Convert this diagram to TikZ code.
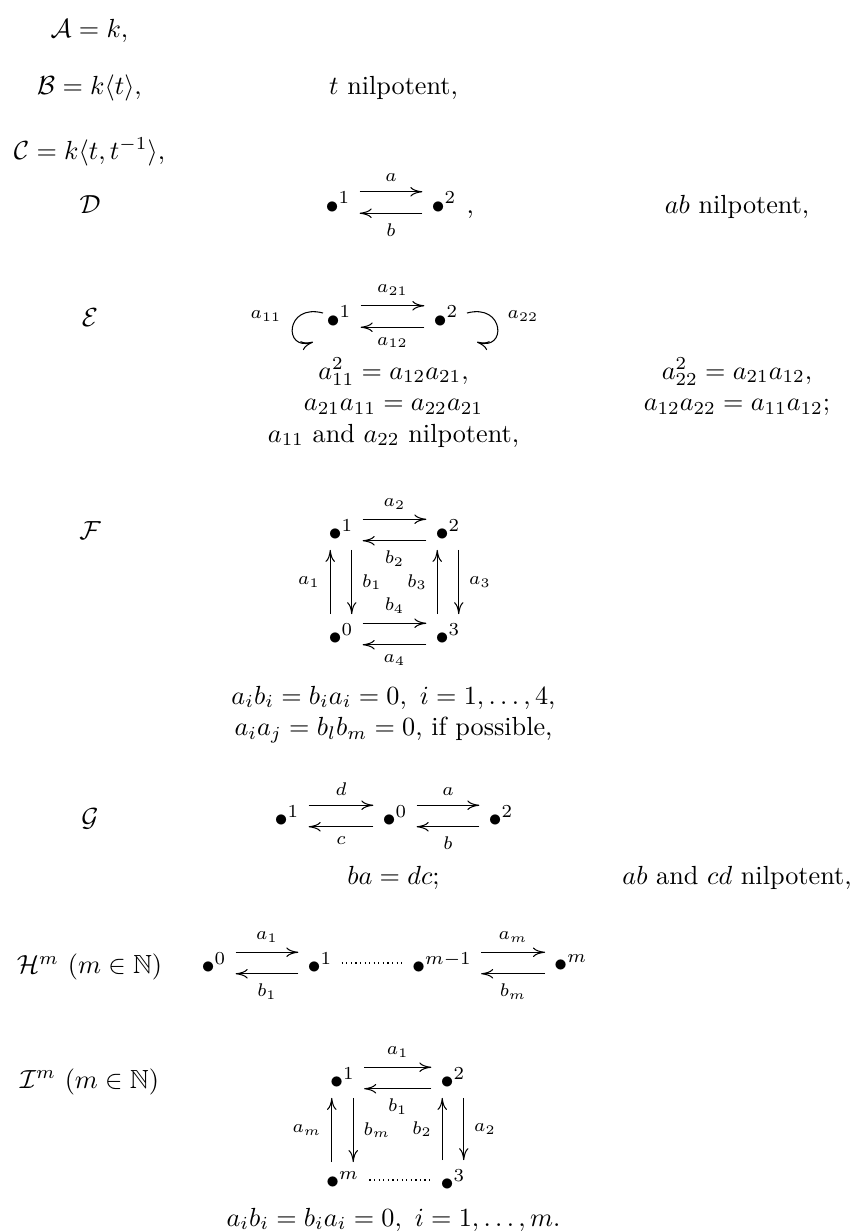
\documentclass[tikz,border=0pt]{standalone}
\usepackage{amsmath,amssymb}
\usetikzlibrary{arrows.meta,calc}
\begin{document}
\begin{tikzpicture}[x=0.3817pt,y=-0.3817pt,
  vx/.style={inner sep=0pt,outer sep=0pt},
  lab/.style={font=\scriptsize,inner sep=0pt},
  tip/.style={-{Computer Modern Rightarrow[length=4.6pt,width=3.6pt]}},
  ar/.style={tip,line width=0.4pt,shorten <=3.5pt,shorten >=3.5pt},
  loopar/.style={tip,line width=0.4pt},
  dotline/.style={line width=0.45pt,dash pattern=on 0.45pt off 1.3pt,shorten <=3.5pt,shorten >=2.7pt},
  txt/.style={inner sep=0pt,anchor=base},
  labu/.style={lab,midway,anchor=south,yshift=3.7pt},
  labd/.style={lab,midway,anchor=north,yshift=-3.7pt},
  labl/.style={lab,midway,anchor=east,xshift=-3.8pt},
  labr/.style={lab,midway,anchor=west,xshift=3.8pt},
]
\useasboundingbox (0,0) rectangle (856,1232);
% top rows
\node[txt] (A) at (89.5,37) {$\mathcal{A}=k,$};
\node[txt] (B) at (89.5,94) {$\mathcal{B}=k\langle t\rangle,$};
\node[txt] (Bt) at (393.5,94) {$t$ nilpotent,};
\node[txt] (C) at (89.5,159) {$\mathcal{C}=k\langle t,t^{-1}\rangle,$};
% D
\node[txt] (Dl) at (90,213) {$\mathcal{D}$};
\node[vx] (d1) at (338,202.5) {$\bullet^{1}$};
\node[vx] (d2) at (444,202.5) {$\bullet^{2}$};
\node[txt,anchor=base west] (dcomma) at (466,213.5) {,};
\node[txt] (Dn) at (737,213) {$ab$ nilpotent,};
\draw[ar] ([yshift=4.1pt]d1.east) -- ([yshift=4.1pt]d2.west) node[labu]{$a$};
\draw[ar] ([yshift=-4.1pt]d2.west) -- ([yshift=-4.1pt]d1.east) node[labd]{$b$};
% E
\node[txt] (El) at (90,326) {$\mathcal{E}$};
\node[vx] (e1) at (339,316.5) {$\bullet^{1}$};
\node[vx] (e2) at (446,316.5) {$\bullet^{2}$};
\draw[ar] ([yshift=4.1pt]e1.east) -- ([yshift=4.1pt]e2.west) node[labu]{$a_{21}$};
\draw[ar] ([yshift=-4.1pt]e2.west) -- ([yshift=-4.1pt]e1.east) node[labd]{$a_{12}$};
\draw[loopar] ($(e1)+(-16,-3.5)$) .. controls ($(e1)+(-54,-13.5)$) and ($(e1)+(-56,35.5)$) .. ($(e1)+(-26,25.5)$);
\draw[loopar] ($(e2)+(21,-3.5)$) .. controls ($(e2)+(59,-13.5)$) and ($(e2)+(61,35.5)$) .. ($(e2)+(31,25.5)$);
\node[lab] (la11) at ($(e1)+(-73,-0.5)$) {$a_{11}$};
\node[lab] (la22) at ($(e2)+(77,-0.5)$) {$a_{22}$};
\node[txt] (E1) at (393.5,379) {$a_{11}^2=a_{12}a_{21},$};
\node[txt] (E2) at (737,379) {$a_{22}^2=a_{21}a_{12},$};
\node[txt] (E3) at (393.5,410.5) {$a_{21}a_{11}=a_{22}a_{21}$};
\node[txt] (E4) at (737,410.5) {$a_{12}a_{22}=a_{11}a_{12};$};
\node[txt] (E5) at (393.5,442) {$a_{11}$ and $a_{22}$ nilpotent,};
% F
\node[txt] (Fl) at (90,539) {$\mathcal{F}$};
\node[vx] (f1) at (341,530) {$\bullet^{1}$};
\node[vx] (f2) at (448,530) {$\bullet^{2}$};
\node[vx] (f0) at (341,634) {$\bullet^{0}$};
\node[vx] (f3) at (448,634) {$\bullet^{3}$};
\draw[ar] ([yshift=4.1pt]f1.east) -- ([yshift=4.1pt]f2.west) node[labu]{$a_2$};
\draw[ar] ([yshift=-4.1pt]f2.west) -- ([yshift=-4.1pt]f1.east) node[labd]{$b_2$};
\draw[ar] ([yshift=4.1pt]f0.east) -- ([yshift=4.1pt]f3.west) node[labu]{$b_4$};
\draw[ar] ([yshift=-4.1pt]f3.west) -- ([yshift=-4.1pt]f0.east) node[labd]{$a_4$};
\draw[ar] ([xshift=-4.1pt]f0.north) -- ([xshift=-4.1pt]f1.south) node[labl]{$a_1$};
\draw[ar] ([xshift=4.1pt]f1.south) -- ([xshift=4.1pt]f0.north) node[labr]{$b_1$};
\draw[ar] ([xshift=-4.1pt]f3.north) -- ([xshift=-4.1pt]f2.south) node[labl]{$b_3$};
\draw[ar] ([xshift=4.1pt]f2.south) -- ([xshift=4.1pt]f3.north) node[labr]{$a_3$};
\node[txt] (F1) at (393.5,704) {$a_ib_i=b_ia_i=0,\ i=1,\dots,4,$};
\node[txt] (F2) at (393.5,735.5) {$a_ia_j=b_lb_m=0$, if possible,};
% G
\node[txt] (Gl) at (90,826.5) {$\mathcal{G}$};
\node[vx] (g1) at (287,816) {$\bullet^{1}$};
\node[vx] (g0) at (395,816) {$\bullet^{0}$};
\node[vx] (g2) at (501,816) {$\bullet^{2}$};
\draw[ar] ([yshift=4.1pt]g1.east) -- ([yshift=4.1pt]g0.west) node[labu]{$d$};
\draw[ar] ([yshift=-4.1pt]g0.west) -- ([yshift=-4.1pt]g1.east) node[labd]{$c$};
\draw[ar] ([yshift=4.1pt]g0.east) -- ([yshift=4.1pt]g2.west) node[labu]{$a$};
\draw[ar] ([yshift=-4.1pt]g2.west) -- ([yshift=-4.1pt]g0.east) node[labd]{$b$};
\node[txt] (G1) at (393.5,884) {$ba=dc;$};
\node[txt] (G2) at (737,884) {$ab$ and $cd$ nilpotent,};
% H
\node[txt] (Hl) at (89.5,973.5) {$\mathcal{H}^m\ (m\in\mathbb{N})$};
\node[vx] (h0) at (214,963) {$\bullet^{0}$};
\node[vx] (h1) at (320,963) {$\bullet^{1}$};
\node[vx] (hm1) at (442,963) {$\bullet^{m-1}$};
\node[vx] (hm) at (570.7,963) {$\bullet^{m}$};
\draw[ar] ([yshift=4.1pt]h0.east) -- ([yshift=4.1pt]h1.west) node[labu]{$a_1$};
\draw[ar] ([yshift=-4.1pt]h1.west) -- ([yshift=-4.1pt]h0.east) node[labd]{$b_1$};
\draw[dotline] (h1.east) -- (hm1.west);
\draw[ar] ([yshift=4.1pt]hm1.east) -- ([yshift=4.1pt]hm.west) node[labu]{$a_m$};
\draw[ar] ([yshift=-4.1pt]hm.west) -- ([yshift=-4.1pt]hm1.east) node[labd]{$b_m$};
% I
\node[txt] (Il) at (89.5,1088) {$\mathcal{I}^m\ (m\in\mathbb{N})$};
\node[vx] (i1) at (342.5,1078) {$\bullet^{1}$};
\node[vx] (i2) at (453,1078) {$\bullet^{2}$};
\node[vx] (im) at (342.5,1180) {$\bullet^{m}$};
\node[vx] (i3) at (453,1180) {$\bullet^{3}$};
\draw[ar] ([yshift=4.1pt]i1.east) -- ([yshift=4.1pt]i2.west) node[labu]{$a_1$};
\draw[ar] ([yshift=-4.1pt]i2.west) -- ([yshift=-4.1pt]i1.east) node[labd]{$b_1$};
\draw[ar] ([xshift=-4.1pt]im.north) -- ([xshift=-4.1pt]i1.south) node[labl]{$a_m$};
\draw[ar] ([xshift=4.1pt]i1.south) -- ([xshift=4.1pt]im.north) node[labr]{$b_m$};
\draw[ar] ([xshift=-4.1pt]i3.north) -- ([xshift=-4.1pt]i2.south) node[labl]{$b_2$};
\draw[ar] ([xshift=4.1pt]i2.south) -- ([xshift=4.1pt]i3.north) node[labr]{$a_2$};
\draw[dotline,shorten <=4pt,shorten >=2.9pt] (im.east) -- (i3.west);
\node[txt] (I1) at (393.5,1226) {$a_ib_i=b_ia_i=0,\ i=1,\dots,m.$};
\end{tikzpicture}
\end{document}
